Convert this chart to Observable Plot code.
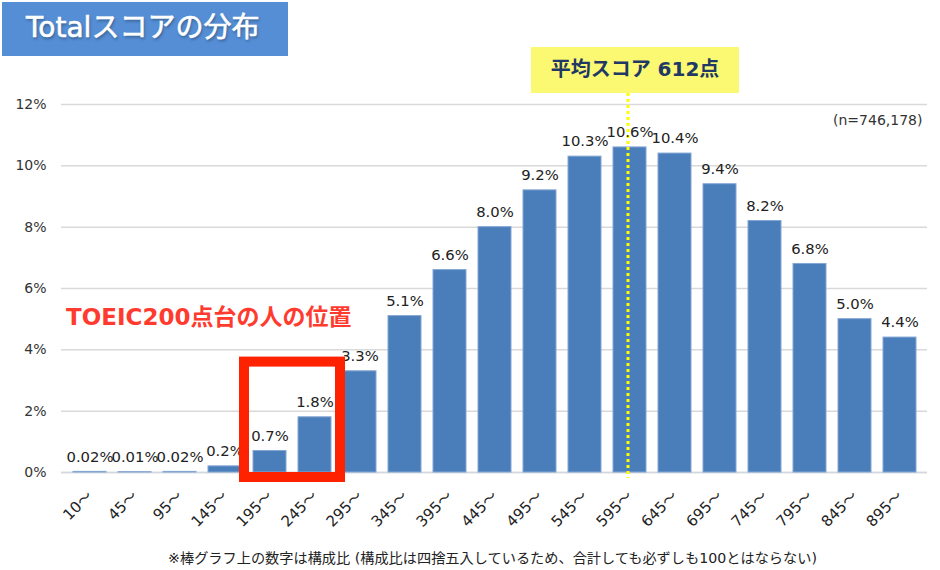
<!DOCTYPE html>
<html><head><meta charset="utf-8">
<script src="https://cdn.jsdelivr.net/npm/d3@7"></script>
<script src="https://cdn.jsdelivr.net/npm/@observablehq/plot@0.6"></script>
<style>
body{margin:0;background:#fff;font-family:"DejaVu Sans","Noto Sans CJK JP",sans-serif;}
#wrap{position:relative;width:940px;height:570px;overflow:hidden;}
#title{position:absolute;left:2px;top:2px;width:286px;height:54px;background:#558ed5;color:#fff;font-size:28px;font-weight:400;line-height:52px;padding-left:24px;box-sizing:border-box;text-shadow:1px 2px 3px rgba(0,0,0,0.35);white-space:nowrap;-webkit-text-stroke:0.6px #fff;}
#mean{position:absolute;left:531px;top:47px;width:208px;height:46px;background:#fbf972;color:#1f3864;font-size:20px;font-weight:700;line-height:44px;text-align:center;white-space:nowrap;}
#note{position:absolute;left:0;width:985px;top:547px;text-align:center;font-size:14.2px;color:#222;white-space:nowrap;}
#n{position:absolute;left:833px;top:112px;font-size:14px;color:#333;white-space:nowrap;}
#red{position:absolute;left:66px;top:298px;font-size:23px;font-weight:700;color:#ff3b30;white-space:nowrap;}
</style></head>
<body><div id="wrap">
<div id="chart"></div>
<div id="title">Totalスコアの分布</div>
<div id="mean">平均スコア 612点</div>
<div id="n">(n=746,178)</div>
<div id="red">TOEIC200点台の人の位置</div>
<div id="note">※棒グラフ上の数字は構成比 (構成比は四捨五入しているため、合計しても必ずしも100とはならない)</div>
</div>
<script>
const categories = ["10〜","45〜","95〜","145〜","195〜","245〜","295〜","345〜","395〜","445〜","495〜","545〜","595〜","645〜","695〜","745〜","795〜","845〜","895〜"];
const shares = [0.02,0.01,0.02,0.2,0.7,1.8,3.3,5.1,6.6,8.0,9.2,10.3,10.6,10.4,9.4,8.2,6.8,5.0,4.4];
const shareLabels = ["0.02%","0.01%","0.02%","0.2%","0.7%","1.8%","3.3%","5.1%","6.6%","8.0%","9.2%","10.3%","10.6%","10.4%","9.4%","8.2%","6.8%","5.0%","4.4%"];
const yTicks = [0,2,4,6,8,10,12];
const meanBand = ["595〜"];
const highlightBands = ["195〜","245〜"];

const data = categories.map((c,i)=>({cat:c, v:shares[i], label:shareLabels[i]}));
const FONT = '"DejaVu Sans","Noto Sans CJK JP",sans-serif';

const highlight = (index, scales, values, dims) => {
  const x = scales.x, bw = x.bandwidth ? x.bandwidth() : 0;
  const x0 = x(highlightBands[0]), x1 = x(highlightBands[1]) + bw;
  const yTop = scales.y(3.6), yBot = dims.height - dims.marginBottom + 5;
  const g = d3.create("svg:g");
  g.append("rect").attr("x", x0 - 9).attr("y", yTop).attr("width", x1 - x0 + 18).attr("height", yBot - yTop)
    .attr("fill","none").attr("stroke","#ff2200").attr("stroke-width",10);
  return g.node();
};

const chart = Plot.plot({
  width: 940, height: 570,
  marginTop: 104, marginBottom: 98, marginLeft: 61, marginRight: 13,
  style: {fontFamily: FONT, background: "transparent"},
  x: {domain: categories, paddingInner: 0.27, paddingOuter: 0.135, label: null},
  y: {domain: [0,12], label: null},
  marks: [
    Plot.gridY(yTicks, {stroke: "#d9d9d9", strokeOpacity: 1, strokeWidth: 1.5}),
    Plot.ruleY([0], {stroke: "#d3d7de", strokeWidth: 1.5}),
    Plot.barY(data, {x: "cat", y: "v", fill: "#4a7ebb", stroke: "#84a6d3", strokeWidth: 1}),
    Plot.ruleX(meanBand, {x: d => d, dx: -2, stroke: "#ffff00", strokeWidth: 3, strokeDasharray: "3 3", insetTop: -11, insetBottom: -6}),
    Plot.text(data, {x: "cat", y: "v", text: "label", dy: -15, fontSize: 14.8, fill: "#222"}),
    Plot.axisX({tickSize: 0, tickPadding: 21, tickRotate: -45, fontSize: 15, fill: "#222"}),
    Plot.axisY(yTicks, {tickSize: 0, tickPadding: 15, tickFormat: d => d + "%", fontSize: 14, fill: "#333"}),
    highlight
  ]
});
document.getElementById("chart").append(chart);
</script>
</body></html>
